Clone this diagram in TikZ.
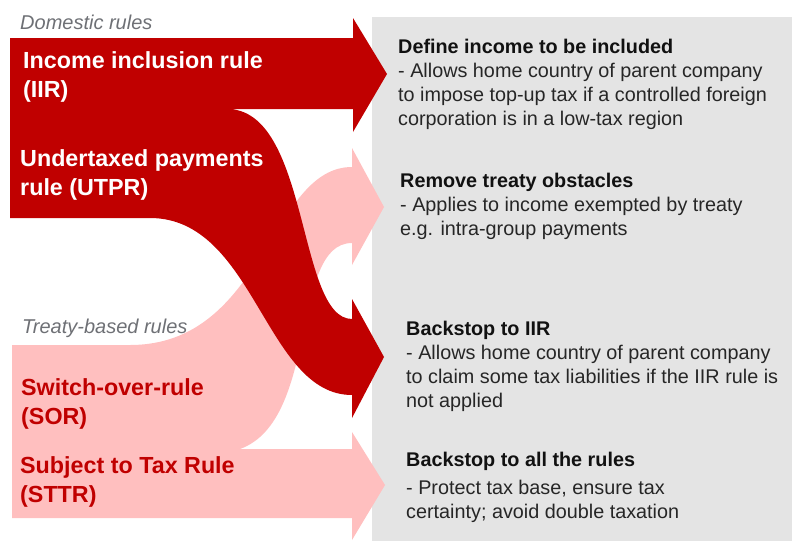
\documentclass[tikz,border=0pt]{standalone}
\usepackage{fontspec}
\setmainfont{Liberation Sans}
\definecolor{darkred}{HTML}{C00000}
\definecolor{pinkred}{HTML}{FFBFBF}
\definecolor{panel}{HTML}{E4E4E4}
\definecolor{labelgray}{HTML}{6E7075}
\definecolor{bodytext}{HTML}{262626}
\definecolor{titletext}{HTML}{111111}
\begin{document}
\begin{tikzpicture}[x=1pt,y=-1pt,
  grouplabel/.style={anchor=base west, inner sep=0pt, text=labelgray, font=\itshape\fontsize{20}{24}\selectfont},
  rulelabel/.style={anchor=base west, inner sep=0pt, font=\bfseries\fontsize{23.3}{29}\selectfont},
  desc/.style={anchor=base west, inner sep=0pt, text=bodytext, font=\fontsize{19.8}{24}\selectfont}]
\useasboundingbox (0,0) rectangle (792,541);
% grey panel
\fill[panel] (372,17) rectangle (792,541);
% treaty-based (pink) arrows
\fill[pinkred] (12,345) -- (130,345) .. controls (265,345) and (270,167) .. (352,167)
  -- (352,148) -- (384,207) -- (352,265) -- (352,243)
  .. controls (290,243) and (320,420) .. (240,449)
  -- (352,449) -- (352,432) -- (385,485) -- (352,540) -- (352,518) -- (12,518) -- cycle;
% domestic (dark red) arrows
\fill[darkred] (10,38) -- (353,38) -- (353,18) -- (387,74) -- (353,132) -- (353,109) -- (227,109)
  .. controls (310,109) and (297,319) .. (352,319)
  -- (352,299) -- (384,357) -- (352,418) -- (352,395)
  .. controls (265,395) and (255,218) .. (150,218) -- (10,218) -- cycle;
% group labels
\node[grouplabel] (dom) at (20,29) {Domestic rules};
\node[grouplabel] (treaty) at (22,333) {Treaty-based rules};
% rule labels
\node[rulelabel, text=white] (iir) at (23,68) {\parbox[t]{300pt}{Income inclusion rule\\(IIR)}};
\node[rulelabel, text=white] (utpr) at (20,166) {\parbox[t]{300pt}{Undertaxed payments\\rule (UTPR)}};
\node[rulelabel, text=darkred] (sor) at (21,395) {\parbox[t]{300pt}{Switch-over-rule\\(SOR)}};
\node[rulelabel, text=darkred] (sttr) at (20,473) {\parbox[t]{300pt}{Subject to Tax Rule\\(STTR)}};
% descriptions
\node[desc] (d1) at (398,53) {\parbox[t]{390pt}{\textcolor{titletext}{\bfseries Define income to be included}\\- Allows home country of parent company\\to impose top-up tax if a controlled foreign\\corporation is in a low-tax region}};
\node[desc] (d2) at (400,187) {\parbox[t]{390pt}{\textcolor{titletext}{\bfseries Remove treaty obstacles}\\- Applies to income exempted by treaty\\e.g. intra-group payments}};
\node[desc] (d3) at (406,335) {\parbox[t]{390pt}{\textcolor{titletext}{\bfseries Backstop to IIR}\\- Allows home country of parent company\\to claim some tax liabilities if the IIR rule is\\not applied}};
\node[desc] (d4) at (406,466) {\parbox[t]{390pt}{\textcolor{titletext}{\bfseries Backstop to all the rules}\\[4pt]- Protect tax base, ensure tax\\certainty; avoid double taxation}};
\end{tikzpicture}
\end{document}
